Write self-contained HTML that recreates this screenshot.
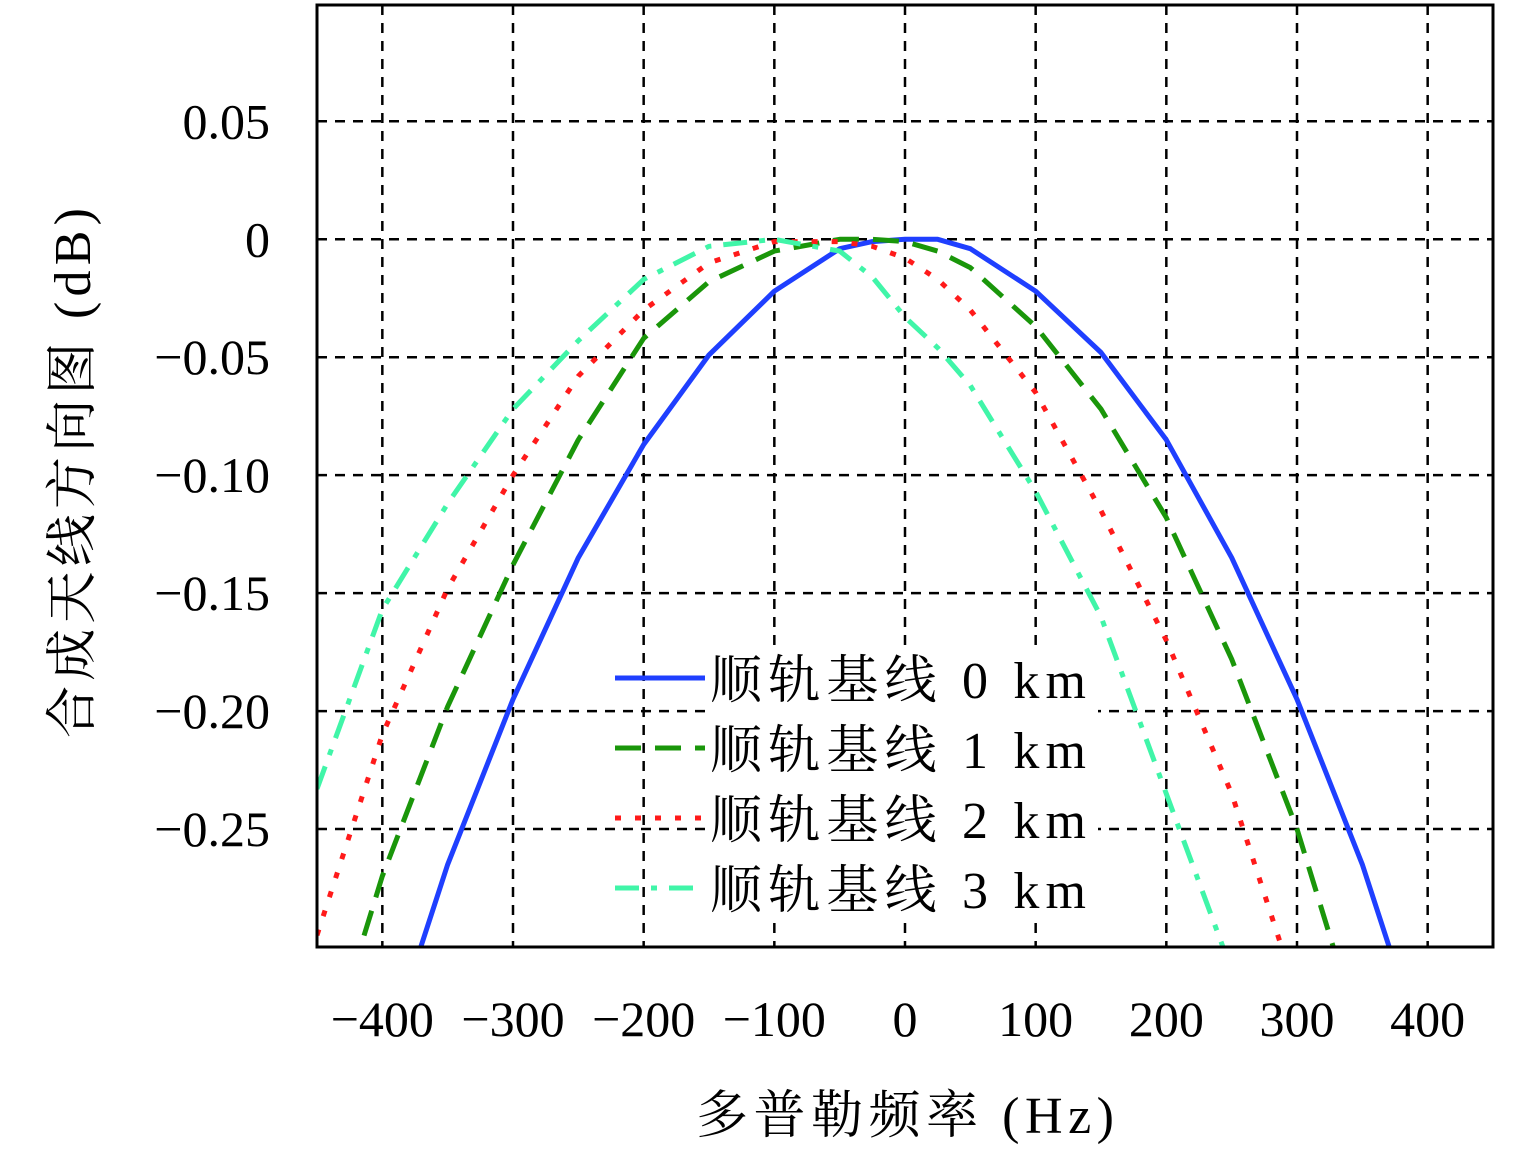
<!DOCTYPE html>
<html><head><meta charset="utf-8">
<style>
html,body{margin:0;padding:0;background:#fff;overflow:hidden;width:1535px;height:1153px;}
svg{display:block;}
text{font-family:"Liberation Serif","Noto Serif CJK SC",serif;fill:#000;}
</style></head>
<body>
<svg id="chart" width="1535" height="1153" xmlns="http://www.w3.org/2000/svg"></svg>
<script>
const freqs = [-450,-400,-350,-300,-250,-200,-150,-100,-50,-25,0,25,50,100,150,200,250,300,350,400,450];
const blueVals  = [-0.45,-0.35,-0.265,-0.195,-0.135,-0.087,-0.049,-0.022,-0.004,-0.001,0,0,-0.004,-0.022,-0.048,-0.085,-0.135,-0.195,-0.265,-0.35,-0.45];
const greenVals = [-0.36,-0.27,-0.198,-0.138,-0.085,-0.042,-0.018,-0.005,0,0,-0.001,-0.005,-0.012,-0.037,-0.072,-0.118,-0.178,-0.25,-0.34,-0.45,-0.56];
const redVals   = [-0.295,-0.21,-0.148,-0.1,-0.058,-0.03,-0.01,-0.001,-0.001,-0.003,-0.008,-0.017,-0.03,-0.065,-0.115,-0.17,-0.235,-0.32,-0.42,-0.53,-0.65];
const cyanVals  = [-0.233,-0.157,-0.112,-0.072,-0.043,-0.017,-0.003,0,-0.005,-0.016,-0.033,-0.046,-0.062,-0.107,-0.16,-0.235,-0.31,-0.40,-0.5,-0.6,-0.7];
const xTicks = [-400,-300,-200,-100,0,100,200,300,400];
const yTicks = [0.05,0,-0.05,-0.10,-0.15,-0.20,-0.25];
const yTickLabels = ["0.05","0","−0.05","−0.10","−0.15","−0.20","−0.25"];
const seriesNames = ["顺轨基线 0 km","顺轨基线 1 km","顺轨基线 2 km","顺轨基线 3 km"];

const L=317,R=1493,T=5,B=947;
const xMin=-450,xMax=450,yMin=-0.30,yMax=0.0993;
const sx=v=>L+(v-xMin)/(xMax-xMin)*(R-L);
const sy=v=>B-(v-yMin)/(yMax-yMin)*(B-T);
const NS="http://www.w3.org/2000/svg";
const svg=document.getElementById('chart');
function mk(tag,attrs,parent){const e=document.createElementNS(NS,tag);for(const k in attrs)e.setAttribute(k,attrs[k]);(parent||svg).appendChild(e);return e;}

const defs=mk('defs',{});
const cp=mk('clipPath',{id:'clip'},defs);
mk('rect',{x:L,y:T,width:R-L,height:B-T},cp);

xTicks.forEach(t=>{
  const g=mk('line',{x1:sx(t),x2:sx(t),y1:T,y2:B,stroke:'#000','stroke-width':2.5,'stroke-dasharray':'10,8'});
  
  
  const tx=mk('text',{x:sx(t),y:1036,'font-size':50,'text-anchor':'middle'});
  tx.textContent=t<0?'−'+Math.abs(t):String(t);
  
  
});
yTicks.forEach((t,i)=>{
  const g=mk('line',{x1:L,x2:R,y1:sy(t),y2:sy(t),stroke:'#000','stroke-width':2.5,'stroke-dasharray':'10,8'});
  
  
  const tx=mk('text',{x:270,y:sy(t)+17,'font-size':50,'text-anchor':'end'});
  tx.textContent=yTickLabels[i];
  
  
});

const styles=[
  {c:'#1f3fff',d:'none',n:'series-0km'},
  {c:'#1a960a',d:'26,14',n:'series-1km'},
  {c:'#ff1a1a',d:'6,14',n:'series-2km'},
  {c:'#40f5a8',d:'24,12,6,12',n:'series-3km'}
];
const allVals=[blueVals,greenVals,redVals,cyanVals];
const gClip=mk('g',{'clip-path':'url(#clip)'});
allVals.forEach((vals,i)=>{
  const d=freqs.map((f,j)=>(j?'L':'M')+sx(f).toFixed(1)+','+sy(vals[j]).toFixed(1)).join(' ');
  const p=mk('path',{d:d,fill:'none',stroke:styles[i].c,'stroke-width':5,'stroke-dasharray':styles[i].d,'stroke-linejoin':'round'},gClip);
  
  
});

const frame=mk('rect',{x:L,y:T,width:R-L,height:B-T,fill:'none',stroke:'#000','stroke-width':3});



const leg=mk('g',{});


mk('rect',{x:706,y:648,width:392,height:268,fill:'#fff'},leg);
const rows=[678,748,818,888];
seriesNames.forEach((n,i)=>{
  const ln=mk('line',{x1:615,x2:705,y1:rows[i],y2:rows[i],stroke:styles[i].c,'stroke-width':5,'stroke-dasharray':styles[i].d},leg);
  
  
  const tx=mk('text',{x:710,y:rows[i]+20,'font-size':52,textLength:376,lengthAdjust:'spacing'},leg);
  tx.textContent=n;
  
  
});

const xt=mk('text',{x:905,y:1133,'font-size':52,'text-anchor':'middle',textLength:418,lengthAdjust:'spacing'});
xt.textContent='多普勒频率 (Hz)';


const yt=mk('text',{x:0,y:0,'font-size':52,'text-anchor':'middle',textLength:530,lengthAdjust:'spacing',transform:'translate(90,473) rotate(-90)'});
yt.textContent='合成天线方向图 (dB)';


</script>
</body></html>
